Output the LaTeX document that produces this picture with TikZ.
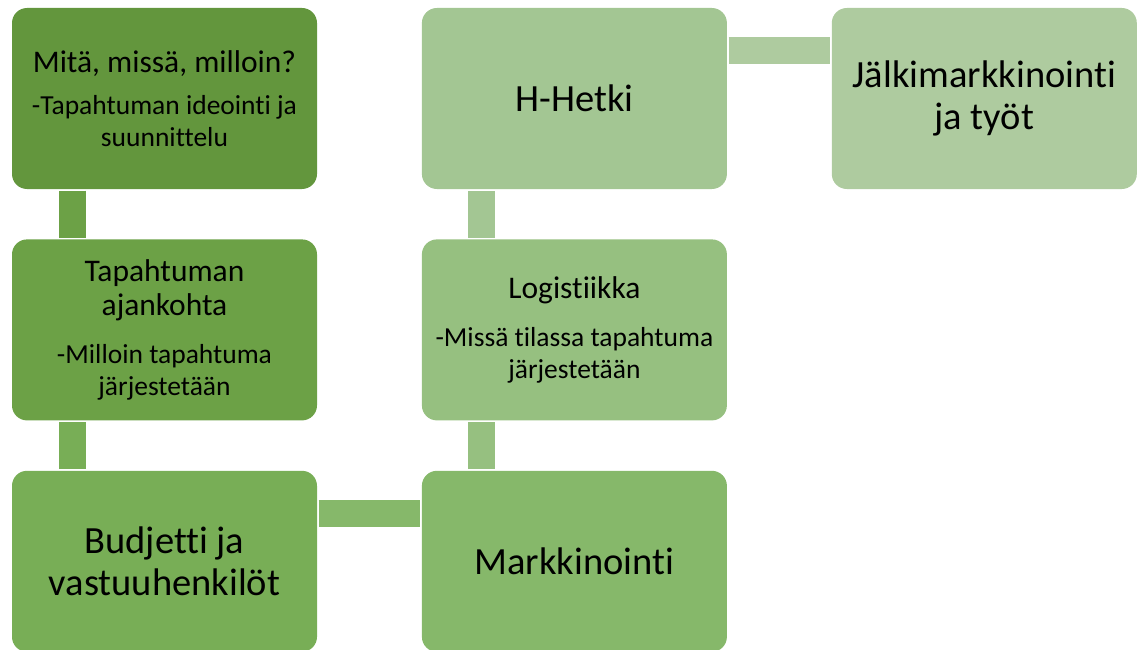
\documentclass[tikz,border=0pt]{standalone}
\usepackage{fontspec}
\setmainfont{Carlito}[Ligatures=NoCommon]
\usetikzlibrary{positioning}

\definecolor{stepA}{HTML}{63963D}
\definecolor{stepB}{HTML}{6CA146}
\definecolor{stepC}{HTML}{78AE56}
\definecolor{stepD}{HTML}{86B86A}
\definecolor{stepE}{HTML}{96C080}
\definecolor{stepF}{HTML}{A3C693}
\definecolor{stepG}{HTML}{AECB9F}

\tikzset{
    phase/.style={rounded corners=15pt, minimum width=305pt, minimum height=181pt,
        text width=298pt, align=flush center, inner sep=0pt,
        font=\fontsize{31.5}{34}\selectfont},
    bigphase/.style={phase, font=\fontsize{38.5}{42}\selectfont},
    link/.style={line width=27pt, shorten <=1.5pt, shorten >=1.5pt},
}
\newcommand{\detail}[2][16pt]{\par\vspace{#1}{\fontsize{27.5}{32}\selectfont #2\par}}

\begin{document}
\begin{tikzpicture}[x=1pt, y=-1pt]
    % variables
    \pgfmathsetmacro{\vGap}{50}
    \pgfmathsetmacro{\vSide}{104.5}

    \useasboundingbox (0,0) rectangle (1137,650);
    \clip (0,0) rectangle (1137,650);

    \node[phase, fill=stepA] (idea) at (164.5,98.5)
        {Mitä, missä, milloin?\detail[10pt]{-Tapahtuman ideointi ja\\suunnittelu}};
    \node[phase, fill=stepB, below=\vGap pt of idea] (date)
        {Tapahtuman\\ajankohta\detail{-Milloin tapahtuma\\järjestetään}};
    \node[bigphase, fill=stepC, below=\vGap pt of date] (budget)
        {Budjetti ja\\vastuuhenkilöt};
    \node[bigphase, fill=stepD, right=\vSide pt of budget] (market)
        {Markkinointi};
    \node[phase, fill=stepE, above=\vGap pt of market] (logist)
        {Logistiikka\detail{-Missä tilassa tapahtuma\\järjestetään}};
    \node[bigphase, fill=stepF, above=\vGap pt of logist] (hhour)
        {H-Hetki};
    \node[bigphase, fill=stepG, right=\vSide pt of hhour] (after)
        {Jälkimarkkinointi\\ja työt};

    % links
    \draw[link, stepB] ([xshift=61pt]idea.south west) -- ([xshift=61pt]date.north west);
    \draw[link, stepC] ([xshift=61pt]date.south west) -- ([xshift=61pt]budget.north west);
    \draw[link, stepD] ([yshift=-43pt]budget.north east) -- ([yshift=-43pt]market.north west);
    \draw[link, stepE] ([xshift=60pt]market.north west) -- ([xshift=60pt]logist.south west);
    \draw[link, stepF] ([xshift=60pt]logist.north west) -- ([xshift=60pt]hhour.south west);
    \draw[link, stepG] ([yshift=-43pt]hhour.north east) -- ([yshift=-43pt]after.north west);
\end{tikzpicture}
\end{document}
